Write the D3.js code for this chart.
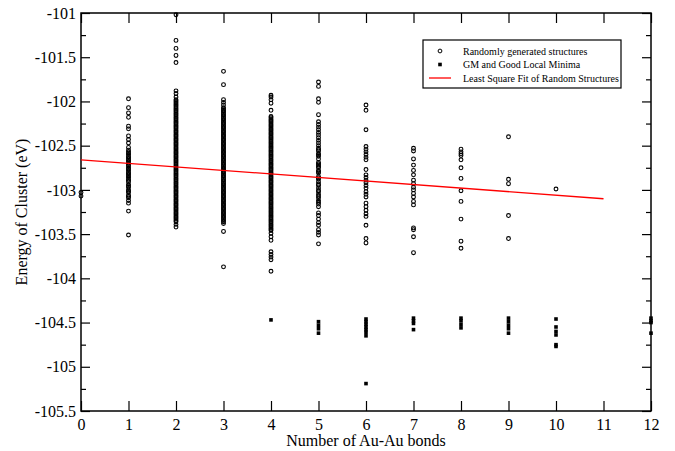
<!DOCTYPE html>
<html>
<head>
<meta charset="utf-8">
<script src="https://cdn.jsdelivr.net/npm/d3@7"></script>
<style>
  html, body { margin: 0; padding: 0; background: #fff; }
  svg { display: block; }
  text { font-family: "Liberation Serif", "Times New Roman", Times, "DejaVu Serif", serif; fill: #000; }
</style>
</head>
<body>
<svg id="chart" width="675" height="451"></svg>
<script>
// ---------- DATA ----------
const bondTicks = [0,1,2,3,4,5,6,7,8,9,10,11,12];
const energyTicks = [-101,-101.5,-102,-102.5,-103,-103.5,-104,-104.5,-105,-105.5];

// Randomly generated structures: energies (eV) per number of Au-Au bonds
const random0 = [-103.03, -103.07];
const random1 = [-101.97, -102.07, -102.13, -102.18, -102.28, -102.31, -102.39, -102.43, -102.47,
  -102.52, -102.55, -102.57, -102.585, -102.6, -102.62, -102.635, -102.65, -102.665, -102.68, -102.7,
  -102.715, -102.73, -102.75, -102.765, -102.78, -102.8, -102.815, -102.83, -102.845, -102.86, -102.88,
  -102.895, -102.91, -102.94, -102.955, -102.97, -103.0, -103.015, -103.03, -103.06, -103.075, -103.09,
  -103.12, -103.15, -103.24, -103.51];
const random2 = [-101.02, -101.31, -101.4, -101.48, -101.56, -101.88, -101.91, -101.95,
  -101.98, -102.01, -102.04, -102.07, -102.1, -102.13, -102.16, -102.19, -102.22, -102.25, -102.28,
  -102.31, -102.34, -102.37, -102.4, -102.43, -102.46, -102.49, -102.52, -102.55, -102.58, -102.61,
  -102.64, -102.67, -102.7, -102.73, -102.76, -102.79, -102.82, -102.85, -102.88, -102.91, -102.94,
  -102.97, -103.0, -103.03, -103.06, -103.09, -103.12, -103.15, -103.18, -103.21, -103.24, -103.27,
  -103.3, -103.33, -103.36, -103.39, -103.42,
  -101.995, -102.025, -102.055, -102.085, -102.115, -102.145, -102.175, -102.205, -102.235, -102.265,
  -102.295, -102.325, -102.355, -102.385, -102.415, -102.445, -102.475, -102.505, -102.535, -102.565,
  -102.595, -102.625, -102.655, -102.685, -102.715, -102.745, -102.775, -102.805, -102.835, -102.865,
  -102.895, -102.925, -102.955, -102.985, -103.015, -103.045, -103.075, -103.105, -103.135, -103.165,
  -103.195, -103.225, -103.255, -103.285, -103.315, -103.345];
const random3 = [-101.66, -101.81, -101.98, -102.01, -102.04,
  -102.07, -102.1, -102.13, -102.16, -102.19, -102.22, -102.25, -102.28, -102.31, -102.34, -102.37,
  -102.4, -102.43, -102.46, -102.49, -102.52, -102.55, -102.58, -102.61, -102.64, -102.67, -102.7,
  -102.73, -102.76, -102.79, -102.82, -102.85, -102.88, -102.91, -102.94, -102.97, -103.0, -103.03,
  -103.06, -103.09, -103.12, -103.15, -103.18, -103.21, -103.24, -103.27, -103.3, -103.33, -103.36,
  -103.38, -103.47, -103.87,
  -102.085, -102.115, -102.145, -102.175, -102.205, -102.235, -102.265, -102.295, -102.325, -102.355,
  -102.385, -102.415, -102.445, -102.475, -102.505, -102.535, -102.565, -102.595, -102.625, -102.655,
  -102.685, -102.715, -102.745, -102.775, -102.805, -102.835, -102.865, -102.895, -102.925, -102.955,
  -102.985, -103.015, -103.045, -103.075, -103.105, -103.135, -103.165, -103.195, -103.225, -103.255,
  -103.285, -103.315, -103.345];
const random4 = [-101.93, -101.95, -101.98, -102.02, -102.1,
  -102.17, -102.2, -102.23, -102.26, -102.29, -102.32, -102.35, -102.38, -102.41, -102.44, -102.47,
  -102.5, -102.53, -102.56, -102.59, -102.62, -102.65, -102.68, -102.71, -102.74, -102.77, -102.8,
  -102.83, -102.86, -102.89, -102.92, -102.95, -102.98, -103.01, -103.04, -103.07, -103.1, -103.13,
  -103.16, -103.19, -103.22, -103.25, -103.28, -103.31, -103.34, -103.37, -103.4, -103.43, -103.46,
  -103.49, -103.53, -103.57, -103.7, -103.73, -103.76, -103.79, -103.92,
  -102.185, -102.215, -102.245, -102.275, -102.305, -102.335, -102.365, -102.395, -102.425, -102.455,
  -102.485, -102.515, -102.545, -102.575, -102.605, -102.635, -102.665, -102.695, -102.725, -102.755,
  -102.785, -102.815, -102.845, -102.875, -102.905, -102.935, -102.965, -102.995, -103.025, -103.055,
  -103.085, -103.115, -103.145, -103.175, -103.205, -103.235, -103.265, -103.295, -103.325, -103.355,
  -103.385, -103.415, -103.445];
const random5 = [-101.78, -101.83, -101.97, -102.01, -102.15, -102.23, -102.26, -102.29, -102.32,
  -102.35, -102.38, -102.41, -102.44, -102.47, -102.5, -102.53, -102.56, -102.59, -102.62, -102.65,
  -102.69, -102.72, -102.75, -102.78, -102.81, -102.85, -102.88, -102.91, -102.95, -102.98, -103.02,
  -103.05, -103.09, -103.12, -103.16, -103.19, -103.26, -103.29, -103.33, -103.37, -103.4, -103.45,
  -103.48, -103.51, -103.61,
  -102.545, -102.605, -102.705, -102.735, -102.795, -102.865, -102.935, -103.005, -103.07, -103.14];
const random6 = [-102.04, -102.1, -102.32, -102.51, -102.54, -102.57, -102.6, -102.63, -102.66,
  -102.77, -102.83, -102.86, -102.89, -102.92, -102.95, -102.98, -103.02, -103.05, -103.08, -103.15,
  -103.19, -103.23, -103.27, -103.3, -103.4, -103.55, -103.6];
const random7 = [-102.53, -102.56, -102.65, -102.72, -102.78, -102.83, -102.89, -102.93, -102.97,
  -103.0, -103.04, -103.08, -103.13, -103.17, -103.43, -103.45, -103.53, -103.71];
const random8 = [-102.54, -102.57, -102.59, -102.61, -102.66, -102.75, -102.87, -103.01, -103.13,
  -103.33, -103.58, -103.66];
const random9 = [-102.4, -102.88, -102.93, -103.29, -103.55];
const random10 = [-102.99];
const randomByBond = [random0, random1, random2, random3, random4, random5, random6,
  random7, random8, random9, random10];

// GM and good local minima
const gmBonds    = [4, 5, 5, 5, 5, 6, 6, 6, 6, 6, 6, 6, 6, 7, 7, 7, 7, 8, 8, 8, 8,
  9, 9, 9, 9, 9, 10, 10, 10, 10, 10, 10, 12, 12, 12, 12];
const gmEnergies = [-104.47, -104.49, -104.53, -104.57, -104.62,
  -104.46, -104.49, -104.52, -104.55, -104.58, -104.61, -104.65, -105.19,
  -104.45, -104.48, -104.51, -104.58,
  -104.45, -104.48, -104.52, -104.56,
  -104.45, -104.49, -104.53, -104.57, -104.62,
  -104.46, -104.55, -104.6, -104.64, -104.75, -104.77,
  -104.45, -104.48, -104.5, -104.62];

// Least square fit of random structures
const fitBonds = [0, 11];
const fitEnergies = [-102.66, -103.10];

const legendLabels = ["Randomly generated structures", "GM and Good Local Minima",
  "Least Square Fit of Random Structures"];

// ---------- CHART ----------
const W = 675, H = 451;
const margin = {left: 81, right: 24, top: 13, bottom: 40};
const FONT = "'Liberation Serif', 'Times New Roman', Times, serif";
const svg = d3.select("#chart");
const x = d3.scaleLinear().domain([0, 12]).range([margin.left, W - margin.right]);
const y = d3.scaleLinear().domain([-105.5, -101]).range([H - margin.bottom, margin.top]);

const minorY = d3.range(-105.5, -100.99, 0.25).filter(v => Math.abs(v * 2 - Math.round(v * 2)) > 1e-6);

// frame
svg.append("rect")
  .attr("x", x(0)).attr("y", y(-101))
  .attr("width", x(12) - x(0)).attr("height", y(-105.5) - y(-101))
  .attr("fill", "none").attr("stroke", "#000").attr("stroke-width", 1.5);

// axes with inward ticks
const bottomAxis = d3.axisBottom(x).tickValues(bondTicks).tickSize(-10).tickPadding(8).tickFormat(d3.format("d"));
const gB = svg.append("g").attr("transform", `translate(0,${y(-105.5)})`).call(bottomAxis);
const topAxis = d3.axisTop(x).tickValues(bondTicks).tickSize(-10).tickFormat("");
const gT = svg.append("g").attr("transform", `translate(0,${y(-101)})`).call(topAxis);

const leftAxis = d3.axisLeft(y).tickValues(energyTicks).tickSize(-9).tickPadding(5).tickFormat(d => String(d));
const gL = svg.append("g").attr("transform", `translate(${x(0)},0)`).call(leftAxis);
const leftMinor = d3.axisLeft(y).tickValues(minorY).tickSize(-5).tickFormat("");
const gLm = svg.append("g").attr("transform", `translate(${x(0)},0)`).call(leftMinor);
const rightAxis = d3.axisRight(y).tickValues(energyTicks).tickSize(-9).tickFormat("");
const gR = svg.append("g").attr("transform", `translate(${x(12)},0)`).call(rightAxis);
const rightMinor = d3.axisRight(y).tickValues(minorY).tickSize(-5).tickFormat("");
const gRm = svg.append("g").attr("transform", `translate(${x(12)},0)`).call(rightMinor);

[gB, gT, gL, gLm, gR, gRm].forEach(g => {
  g.attr("font-family", FONT);
  g.select(".domain").remove();
  g.selectAll(".tick line").attr("stroke", "#000").attr("stroke-width", 1.2);
  g.selectAll(".tick text").style("font-family", FONT).style("font-size", "16px").attr("fill", "#000");
});

// axis titles
svg.append("text")
  .attr("x", (x(0) + x(12)) / 2).attr("y", 446)
  .attr("text-anchor", "middle").style("font-family", FONT).style("font-size", "16px")
  .text("Number of Au-Au bonds");
svg.append("text")
  .attr("transform", `translate(27,${(y(-101) + y(-105.5)) / 2}) rotate(-90)`)
  .attr("text-anchor", "middle").style("font-family", FONT).style("font-size", "16px")
  .text("Energy of Cluster (eV)");

// random points (open circles)
const randomPts = [];
randomByBond.forEach((arr, b) => arr.forEach(e => randomPts.push({b, e})));
svg.append("g").selectAll("circle").data(randomPts).join("circle")
  .attr("cx", d => x(d.b)).attr("cy", d => y(d.e)).attr("r", 1.9)
  .attr("fill", "none").attr("stroke", "#000").attr("stroke-width", 1.1);

// fit line (drawn over the points, as in the reference)
svg.append("line")
  .attr("x1", x(fitBonds[0])).attr("y1", y(fitEnergies[0]))
  .attr("x2", x(fitBonds[1])).attr("y2", y(fitEnergies[1]))
  .attr("stroke", "#ff0000").attr("stroke-width", 1.3);

// GM squares
svg.append("g").selectAll("rect").data(gmBonds.map((b, i) => ({b, e: gmEnergies[i]}))).join("rect")
  .attr("x", d => x(d.b) - 1.8).attr("y", d => y(d.e) - 1.8)
  .attr("width", 3.6).attr("height", 3.6).attr("fill", "#000");

// legend
const lg = svg.append("g");
lg.append("rect").attr("x", 423).attr("y", 40).attr("width", 198).attr("height", 48)
  .attr("fill", "#fff").attr("stroke", "#000").attr("stroke-width", 1.2);
const rowsY = [51, 64.5, 78];
lg.append("circle").attr("cx", 440).attr("cy", rowsY[0]).attr("r", 1.9)
  .attr("fill", "none").attr("stroke", "#000");
lg.append("rect").attr("x", 438.2).attr("y", rowsY[1] - 1.8).attr("width", 3.6).attr("height", 3.6).attr("fill", "#000");
lg.append("line").attr("x1", 429).attr("x2", 451).attr("y1", rowsY[2]).attr("y2", rowsY[2])
  .attr("stroke", "#ff0000").attr("stroke-width", 1.3);
legendLabels.forEach((t, i) => {
  lg.append("text").attr("x", 463).attr("y", rowsY[i] + 3.5)
    .style("font-family", FONT).style("font-size", "10px").text(t);
});
</script>
</body>
</html>
